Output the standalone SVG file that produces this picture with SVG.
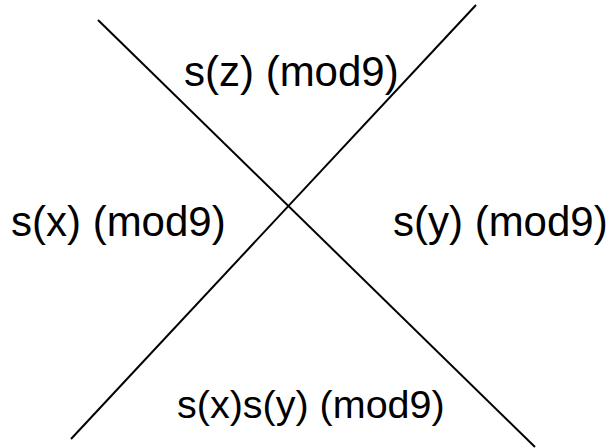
<svg xmlns="http://www.w3.org/2000/svg" width="614" height="448" viewBox="0 0 614 448">
<style>
.l{stroke:#000;stroke-width:2;fill:none}
.t{font-family:"Liberation Sans",Arial,sans-serif;font-size:42px;fill:#000}
.b{font-size:39.5px}
</style>
<rect width="614" height="448" fill="#fff"/>
<g id="connectors">
<line class="l" x1="98" y1="20" x2="535" y2="447"/>
<line class="l" x1="476" y1="5" x2="71" y2="439"/>
</g>
<g id="top"><text class="t" x="184" y="86">s(z) (mod9)</text></g>
<g id="left"><text class="t" x="11" y="236">s(x) (mod9)</text></g>
<g id="right"><text class="t" x="393" y="236">s(y) (mod9)</text></g>
<g id="bottom"><text class="t b" x="177" y="418">s(x)s(y) (mod9)</text></g>
</svg>
